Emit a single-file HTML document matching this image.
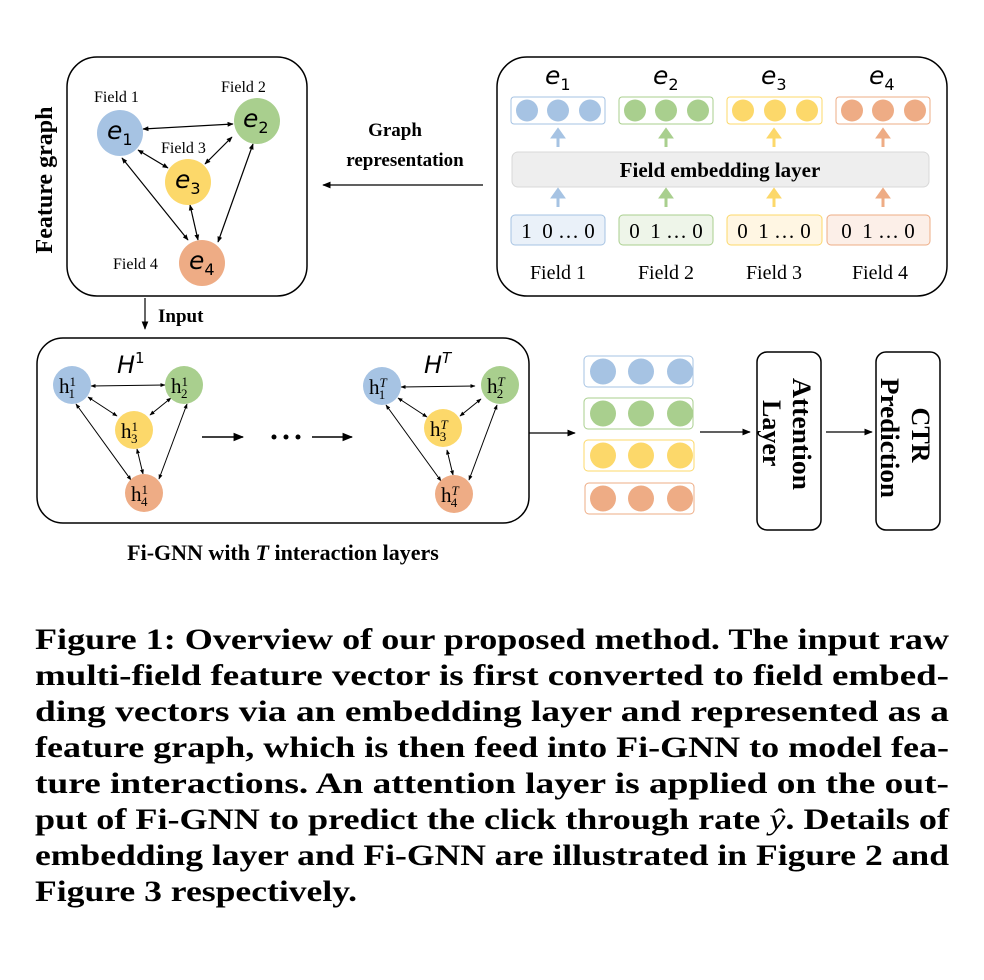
<!DOCTYPE html>
<html><head><meta charset="utf-8"><style>
html,body{margin:0;padding:0;background:#fff;}
svg{display:block;}
.s{font-family:"Liberation Serif",serif;}
.b{font-family:"Liberation Serif",serif;font-weight:bold;}
.m{font-family:"DejaVu Sans",sans-serif;font-style:italic;}
</style></head><body>
<svg width="984" height="980" viewBox="0 0 984 980" xmlns="http://www.w3.org/2000/svg">
<defs>
<marker id="a" viewBox="0 0 10 10" refX="9" refY="5" markerWidth="7" markerHeight="7" orient="auto-start-reverse"><path d="M0,1 L10,5 L0,9 z" fill="#000"/></marker>
<marker id="sa" viewBox="0 0 10 10" refX="9" refY="5" markerWidth="5" markerHeight="5" orient="auto-start-reverse"><path d="M0,1 L10,5 L0,9 z" fill="#000"/></marker>
</defs>
<rect x="67" y="57" width="240" height="239" rx="30" fill="none" stroke="#000" stroke-width="1.5"/>
<text class="b" font-size="24" transform="translate(52,180) rotate(-90)" text-anchor="middle">Feature graph</text>
<g stroke="#000" stroke-width="1.2" marker-start="url(#sa)" marker-end="url(#sa)">
<line x1="143" y1="129" x2="233" y2="124"/>
<line x1="138" y1="150" x2="168" y2="168"/>
<line x1="232" y1="137" x2="205" y2="164"/>
<line x1="122" y1="158" x2="188" y2="240"/>
<line x1="190" y1="205" x2="198" y2="240"/>
<line x1="253" y1="144" x2="218" y2="242"/>
</g>
<circle cx="120" cy="133" r="23" fill="#a6c3e3"/>
<circle cx="257" cy="121" r="23" fill="#a9cf8e"/>
<circle cx="188" cy="182" r="23" fill="#fcd86a"/>
<circle cx="202" cy="263" r="23" fill="#eeac85"/>
<g class="m" font-size="25"><text x="107" y="139">e<tspan font-size="16" font-style="normal" dy="6">1</tspan></text>
<text x="243" y="127">e<tspan font-size="16" font-style="normal" dy="6">2</tspan></text>
<text x="175" y="188">e<tspan font-size="16" font-style="normal" dy="6">3</tspan></text>
<text x="189" y="269">e<tspan font-size="16" font-style="normal" dy="6">4</tspan></text></g>
<g class="s" font-size="16"><text x="94" y="102">Field 1</text><text x="221" y="92">Field 2</text><text x="161" y="153">Field 3</text><text x="113" y="269">Field 4</text></g>
<text class="b" font-size="19" x="395" y="136" text-anchor="middle">Graph</text>
<text class="b" font-size="19" x="405" y="166" text-anchor="middle">representation</text>
<line x1="483" y1="185" x2="323" y2="185" stroke="#000" stroke-width="1.2" marker-end="url(#a)"/>
<rect x="497" y="57" width="450" height="239" rx="30" fill="none" stroke="#000" stroke-width="1.5"/>
<g class="m" font-size="25"><text x="545" y="84">e<tspan font-size="16" font-style="normal" dy="6">1</tspan></text>
<text x="653" y="84">e<tspan font-size="16" font-style="normal" dy="6">2</tspan></text>
<text x="761" y="84">e<tspan font-size="16" font-style="normal" dy="6">3</tspan></text>
<text x="869" y="84">e<tspan font-size="16" font-style="normal" dy="6">4</tspan></text></g>
<rect x="512" y="152" width="417" height="35" rx="6" fill="#eeeeee" stroke="#d8d8d8"/>
<text class="b" font-size="21" x="720" y="177" text-anchor="middle">Field embedding layer</text>
<g>
<g transform="translate(511,0)"><rect x="0" y="97" width="94" height="27" rx="3" fill="#fff" stroke="#a6c3e3"/><circle cx="16" cy="110.5" r="11" fill="#a6c3e3"/><circle cx="47" cy="110.5" r="11" fill="#a6c3e3"/><circle cx="79" cy="110.5" r="11" fill="#a6c3e3"/>
<rect x="0" y="215" width="94" height="30" rx="4" fill="#eaf1f9" stroke="#a6c3e3"/><text class="s" font-size="21" x="47" y="238" text-anchor="middle">1&#160;&#160;0 … 0</text>
<path d="M47,147 v-10 h-5 l5,-7 l5,7 h-5" fill="#a6c3e3" stroke="#a6c3e3" stroke-width="3"/><path d="M47,207 v-10 h-5 l5,-7 l5,7 h-5" fill="#a6c3e3" stroke="#a6c3e3" stroke-width="3"/>
<text class="s" font-size="20" x="47" y="279" text-anchor="middle">Field 1</text></g>
<g transform="translate(619,0)"><rect x="0" y="97" width="94" height="27" rx="3" fill="#fff" stroke="#a9cf8e"/><circle cx="16" cy="110.5" r="11" fill="#a9cf8e"/><circle cx="47" cy="110.5" r="11" fill="#a9cf8e"/><circle cx="79" cy="110.5" r="11" fill="#a9cf8e"/>
<rect x="0" y="215" width="94" height="30" rx="4" fill="#eef5e9" stroke="#a9cf8e"/><text class="s" font-size="21" x="47" y="238" text-anchor="middle">0&#160;&#160;1 … 0</text>
<path d="M47,147 v-10 h-5 l5,-7 l5,7 h-5" fill="#a9cf8e" stroke="#a9cf8e" stroke-width="3"/><path d="M47,207 v-10 h-5 l5,-7 l5,7 h-5" fill="#a9cf8e" stroke="#a9cf8e" stroke-width="3"/>
<text class="s" font-size="20" x="47" y="279" text-anchor="middle">Field 2</text></g>
<g transform="translate(727,0)"><rect x="0" y="97" width="95" height="27" rx="3" fill="#fff" stroke="#fcd86a"/><circle cx="16" cy="110.5" r="11" fill="#fcd86a"/><circle cx="48" cy="110.5" r="11" fill="#fcd86a"/><circle cx="80" cy="110.5" r="11" fill="#fcd86a"/>
<rect x="0" y="215" width="95" height="30" rx="4" fill="#fff6e3" stroke="#fcd86a"/><text class="s" font-size="21" x="47" y="238" text-anchor="middle">0&#160;&#160;1 … 0</text>
<path d="M47,147 v-10 h-5 l5,-7 l5,7 h-5" fill="#fcd86a" stroke="#fcd86a" stroke-width="3"/><path d="M47,207 v-10 h-5 l5,-7 l5,7 h-5" fill="#fcd86a" stroke="#fcd86a" stroke-width="3"/>
<text class="s" font-size="20" x="47" y="279" text-anchor="middle">Field 3</text></g>
<g transform="translate(836,0)"><rect x="0" y="97" width="94" height="27" rx="3" fill="#fff" stroke="#eeac85"/><circle cx="16" cy="110.5" r="11" fill="#eeac85"/><circle cx="47" cy="110.5" r="11" fill="#eeac85"/><circle cx="79" cy="110.5" r="11" fill="#eeac85"/>
<rect x="-9" y="215" width="103" height="30" rx="4" fill="#fcefe8" stroke="#eeac85"/><text class="s" font-size="21" x="42" y="238" text-anchor="middle">0&#160;&#160;1 … 0</text>
<path d="M47,147 v-10 h-5 l5,-7 l5,7 h-5" fill="#eeac85" stroke="#eeac85" stroke-width="3"/><path d="M47,207 v-10 h-5 l5,-7 l5,7 h-5" fill="#eeac85" stroke="#eeac85" stroke-width="3"/>
<text class="s" font-size="20" x="44" y="279" text-anchor="middle">Field 4</text></g>
</g>
<line x1="145" y1="298" x2="145" y2="329" stroke="#000" stroke-width="1.2" marker-end="url(#a)"/>
<text class="b" font-size="19" x="158" y="322">Input</text>
<rect x="37" y="338" width="492" height="185" rx="26" fill="none" stroke="#000" stroke-width="1.5"/>
<text class="m" font-size="24" x="117" y="373">H<tspan font-size="15" font-style="normal" dy="-10">1</tspan></text>
<text class="m" font-size="24" x="424" y="373">H<tspan font-size="15" dy="-10">T</tspan></text>
<g id="g1" stroke="#000" stroke-width="1" marker-start="url(#sa)" marker-end="url(#sa)">
<line x1="91" y1="386" x2="165" y2="385"/>
<line x1="88" y1="397" x2="117" y2="416"/>
<line x1="171" y1="398" x2="150" y2="415"/>
<line x1="76" y1="404" x2="131" y2="480"/>
<line x1="137" y1="449" x2="143" y2="474"/>
<line x1="187" y1="404" x2="159" y2="479"/>
</g>
<use href="#g1" transform="translate(310,1)"/>
<g>
<circle cx="72" cy="385" r="19" fill="#a6c3e3"/><circle cx="184" cy="385" r="19" fill="#a9cf8e"/><circle cx="134" cy="430" r="19" fill="#fcd86a"/><circle cx="144" cy="493" r="19" fill="#eeac85"/>
<circle cx="382" cy="386" r="19" fill="#a6c3e3"/><circle cx="500" cy="385" r="19" fill="#a9cf8e"/><circle cx="443" cy="428" r="19" fill="#fcd86a"/><circle cx="454" cy="494" r="19" fill="#eeac85"/>
</g>
<g class="s" font-size="21">
<text x="59" y="393">h<tspan font-size="13" dy="-7">1</tspan><tspan font-size="13" dx="-7" dy="12">1</tspan></text>
<text x="171" y="393">h<tspan font-size="13" dy="-7">1</tspan><tspan font-size="13" dx="-7" dy="12">2</tspan></text>
<text x="121" y="438">h<tspan font-size="13" dy="-7">1</tspan><tspan font-size="13" dx="-7" dy="12">3</tspan></text>
<text x="131" y="501">h<tspan font-size="13" dy="-7">1</tspan><tspan font-size="13" dx="-7" dy="12">4</tspan></text>
<text x="369" y="394">h<tspan font-size="13" font-style="italic" dy="-7">T</tspan><tspan font-size="13" dx="-8" dy="12">1</tspan></text>
<text x="487" y="393">h<tspan font-size="13" font-style="italic" dy="-7">T</tspan><tspan font-size="13" dx="-8" dy="12">2</tspan></text>
<text x="430" y="436">h<tspan font-size="13" font-style="italic" dy="-7">T</tspan><tspan font-size="13" dx="-8" dy="12">3</tspan></text>
<text x="441" y="502">h<tspan font-size="13" font-style="italic" dy="-7">T</tspan><tspan font-size="13" dx="-8" dy="12">4</tspan></text>
</g>
<g stroke="#000" stroke-width="1.5">
<line x1="202" y1="437" x2="243" y2="437" marker-end="url(#a)"/>
<line x1="312" y1="437" x2="352" y2="437" marker-end="url(#a)"/>
<line x1="529" y1="433" x2="575" y2="433" stroke-width="1.2" marker-end="url(#a)"/>
<line x1="700" y1="432" x2="750" y2="432" stroke-width="1.2" marker-end="url(#a)"/>
<line x1="826" y1="432" x2="872" y2="432" stroke-width="1.2" marker-end="url(#a)"/>
</g>
<g fill="#000"><circle cx="274" cy="437" r="2.5"/><circle cx="286" cy="437" r="2.5"/><circle cx="298" cy="437" r="2.5"/></g>
<g>
<rect x="584" y="356" width="109" height="31" rx="4" fill="#fff" stroke="#a6c3e3"/><circle cx="603" cy="371.5" r="13" fill="#a6c3e3"/><circle cx="641" cy="371.5" r="13" fill="#a6c3e3"/><circle cx="680" cy="371.5" r="13" fill="#a6c3e3"/>
<rect x="584" y="398" width="109" height="31" rx="4" fill="#fff" stroke="#a9cf8e"/><circle cx="603" cy="413.5" r="13" fill="#a9cf8e"/><circle cx="641" cy="413.5" r="13" fill="#a9cf8e"/><circle cx="680" cy="413.5" r="13" fill="#a9cf8e"/>
<rect x="584" y="440" width="110" height="31" rx="4" fill="#fff" stroke="#fcd86a"/><circle cx="603" cy="455.5" r="13" fill="#fcd86a"/><circle cx="641" cy="455.5" r="13" fill="#fcd86a"/><circle cx="680" cy="455.5" r="13" fill="#fcd86a"/>
<rect x="585" y="483" width="109" height="31" rx="4" fill="#fff" stroke="#eeac85"/><circle cx="603" cy="498.5" r="13" fill="#eeac85"/><circle cx="641" cy="498.5" r="13" fill="#eeac85"/><circle cx="680" cy="498.5" r="13" fill="#eeac85"/>
</g>
<rect x="757" y="352" width="64" height="178" rx="10" fill="none" stroke="#000" stroke-width="1.5"/>
<text class="b" font-size="26" transform="translate(793,378) rotate(90)" textLength="112" lengthAdjust="spacingAndGlyphs">Attention</text>
<text class="b" font-size="26" transform="translate(763,400) rotate(90)">Layer</text>
<rect x="876" y="352" width="64" height="178" rx="10" fill="none" stroke="#000" stroke-width="1.5"/>
<text class="b" font-size="26" transform="translate(912,435) rotate(90)" text-anchor="middle">CTR</text>
<text class="b" font-size="26" transform="translate(881,438) rotate(90)" text-anchor="middle" textLength="120" lengthAdjust="spacingAndGlyphs">Prediction</text>
<text class="b" font-size="22" x="283" y="560" text-anchor="middle">Fi-GNN with <tspan font-style="italic">T</tspan> interaction layers</text>
<g class="b" font-size="30">
<text x="35" y="649" textLength="914" lengthAdjust="spacingAndGlyphs">Figure 1: Overview of our proposed method. The input raw</text>
<text x="35" y="685" textLength="914" lengthAdjust="spacingAndGlyphs">multi-field feature vector is first converted to field embed-</text>
<text x="35" y="721" textLength="914" lengthAdjust="spacingAndGlyphs">ding vectors via an embedding layer and represented as a</text>
<text x="35" y="757" textLength="914" lengthAdjust="spacingAndGlyphs">feature graph, which is then feed into Fi-GNN to model fea-</text>
<text x="35" y="793" textLength="914" lengthAdjust="spacingAndGlyphs">ture interactions. An attention layer is applied on the out-</text>
<text x="35" y="829" textLength="914" lengthAdjust="spacingAndGlyphs">put of Fi-GNN to predict the click through rate <tspan font-weight="normal" font-style="italic">ŷ</tspan>. Details of</text>
<text x="35" y="865" textLength="914" lengthAdjust="spacingAndGlyphs">embedding layer and Fi-GNN are illustrated in Figure 2 and</text>
<text x="35" y="901" textLength="322" lengthAdjust="spacingAndGlyphs">Figure 3 respectively.</text>
</g>
</svg>
</body></html>
